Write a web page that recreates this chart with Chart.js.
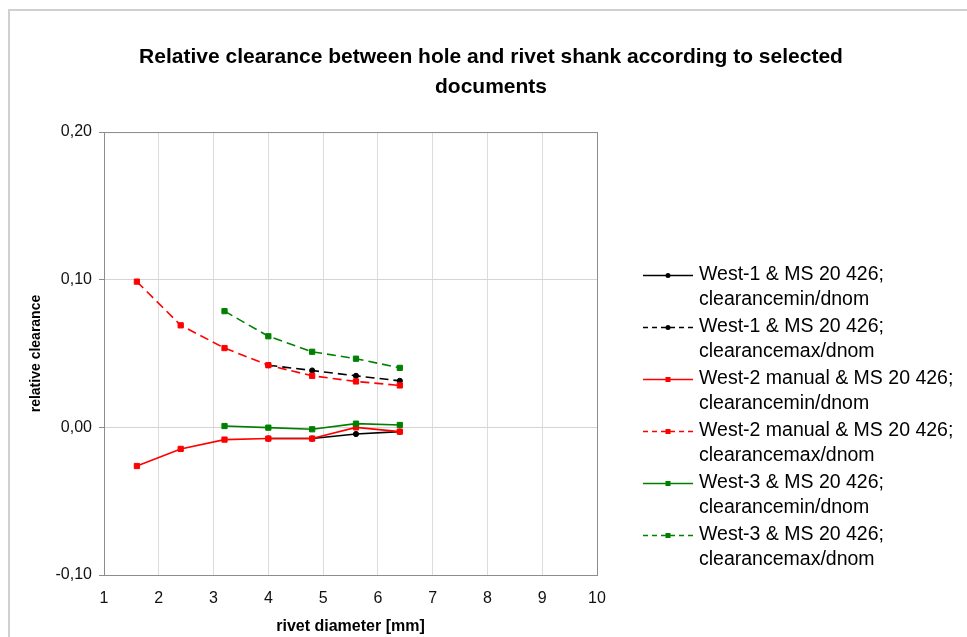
<!DOCTYPE html>
<html>
<head>
<meta charset="utf-8">
<script src="https://cdn.jsdelivr.net/npm/chart.js@4"></script>
<style>
    body { margin: 0; background: #fff; }
    #wrap { position: relative; width: 967px; height: 637px; overflow: hidden; }
    #frame { position: absolute; left: 8px; top: 9px; width: 2000px; height: 2000px;
             border-left: 2px solid #d0d0d0; border-top: 2px solid #d0d0d0; pointer-events: none; }
</style>
</head>
<body>
<div id="wrap">
    <canvas id="chart" width="967" height="637"></canvas>
    <div id="frame"></div>
</div>
<script>
// rivet diameters [mm]
const diamWest1 = [4.0, 4.8, 5.6, 6.4];
const diamWest2 = [1.6, 2.4, 3.2, 4.0, 4.8, 5.6, 6.4];
const diamWest3 = [3.2, 4.0, 4.8, 5.6, 6.4];

// relative clearance values
const west1Min = [-0.0076, -0.0076, -0.0045, -0.0029];
const west1Max = [0.0421, 0.0385, 0.0349, 0.0315];
const west2Min = [-0.0262, -0.0146, -0.0083, -0.0076, -0.0076, 0.0000, -0.0029];
const west2Max = [0.0987, 0.0691, 0.0537, 0.0421, 0.0349, 0.0311, 0.0284];
const west3Min = [0.0009, -0.0002, -0.0013, 0.0025, 0.0016];
const west3Max = [0.0787, 0.0617, 0.0512, 0.0465, 0.0403];

const seriesLabels = [
    ['West-1 & MS 20 426;', 'clearancemin/dnom'],
    ['West-1 & MS 20 426;', 'clearancemax/dnom'],
    ['West-2 manual & MS 20 426;', 'clearancemin/dnom'],
    ['West-2 manual & MS 20 426;', 'clearancemax/dnom'],
    ['West-3 & MS 20 426;', 'clearancemin/dnom'],
    ['West-3 & MS 20 426;', 'clearancemax/dnom']
];

const titleLines = ['Relative clearance between hole and rivet shank according to selected', 'documents'];
const xTitle = 'rivet diameter [mm]';
const yTitle = 'relative clearance';

const FONT = "'Liberation Sans', Arial, sans-serif";
const DASH = [9, 5];

const toPoints = (xs, ys) => xs.map((x, i) => ({x: x, y: ys[i]}));

const makeSet = (i, xs, ys, color, dashed, pointStyle, order) => ({
    label: seriesLabels[i].join(' '),
    data: toPoints(xs, ys),
    borderColor: color,
    backgroundColor: color,
    borderWidth: 1.6,
    borderDash: dashed ? DASH : [],
    pointStyle: pointStyle,
    pointRadius: pointStyle === 'circle' ? 2.6 : 3.7,
    pointBorderWidth: 1,
    pointHoverRadius: 3,
    tension: 0,
    fill: false,
    order: order
});

const datasets = [
    makeSet(0, diamWest1, west1Min, '#000000', false, 'circle', 2),
    makeSet(1, diamWest1, west1Max, '#000000', true, 'circle', 2),
    makeSet(2, diamWest2, west2Min, '#ff0000', false, 'rect', 1),
    makeSet(3, diamWest2, west2Max, '#ff0000', true, 'rect', 1),
    makeSet(4, diamWest3, west3Min, '#008000', false, 'rect', 0),
    makeSet(5, diamWest3, west3Max, '#008000', true, 'rect', 0)
];

// grey box round the plot area
const plotFrame = {
    id: 'plotFrame',
    beforeDatasetsDraw(chart) {
        const {ctx, chartArea: a} = chart;
        ctx.save();
        ctx.strokeStyle = '#8c8c8c';
        ctx.lineWidth = 1;
        ctx.strokeRect(a.left + 0.5, a.top + 0.5, a.right - a.left, a.bottom - a.top);
        ctx.restore();
    }
};

// legend with two-line labels, to the right of the plot
const sideLegend = {
    id: 'sideLegend',
    afterDraw(chart) {
        const {ctx, chartArea: a} = chart;
        const x0 = a.right + 46;
        const x1 = x0 + 50;
        const tx = x1 + 6;
        let y = 275;
        ctx.save();
        ctx.font = '19.5px ' + FONT;
        ctx.textBaseline = 'middle';
        ctx.textAlign = 'left';
        chart.data.datasets.forEach((ds, i) => {
            ctx.strokeStyle = ds.borderColor;
            ctx.lineWidth = 1.5;
            ctx.setLineDash(ds.borderDash.length ? [5, 4] : []);
            ctx.beginPath();
            ctx.moveTo(x0, y + 0.5);
            ctx.lineTo(x1, y + 0.5);
            ctx.stroke();
            ctx.setLineDash([]);
            ctx.fillStyle = ds.backgroundColor;
            const mx = (x0 + x1) / 2;
            if (ds.pointStyle === 'circle') {
                ctx.beginPath();
                ctx.arc(mx, y + 0.5, 2.5, 0, Math.PI * 2);
                ctx.fill();
            } else {
                ctx.fillRect(mx - 2.5, y - 2, 5, 5);
            }
            ctx.fillStyle = '#000';
            ctx.fillText(seriesLabels[i][0], tx, y);
            ctx.fillText(seriesLabels[i][1], tx, y + 25);
            y += 52;
        });
        ctx.restore();
    }
};

const ctx = document.getElementById('chart').getContext('2d');
const chart = new Chart(ctx, {
    type: 'line',
    data: {datasets: datasets},
    options: {
        responsive: false,
        animation: false,
        devicePixelRatio: 1,
        layout: {padding: {left: 15, right: 0, top: 0, bottom: 0}},
        plugins: {
            legend: {display: false},
            tooltip: {enabled: false},
            title: {
                display: true,
                text: titleLines,
                color: '#000',
                font: {family: FONT, size: 21, weight: 'bold', lineHeight: 1.43},
                padding: {top: 42, bottom: 30}
            }
        },
        scales: {
            x: {
                type: 'linear',
                min: 1,
                max: 10,
                afterFit: s => { s.height = 62; },
                ticks: {stepSize: 1, color: '#111', padding: 14, font: {family: FONT, size: 16}},
                grid: {color: '#dcdcdc', drawTicks: false},
                border: {display: false},
                title: {display: true, text: xTitle, color: '#000', padding: {top: 0, bottom: 1},
                        font: {family: FONT, size: 16, weight: 'bold', lineHeight: 1.2}}
            },
            y: {
                type: 'linear',
                min: -0.1,
                max: 0.2,
                afterFit: s => { s.width = 89; },
                ticks: {
                    stepSize: 0.1,
                    color: '#111',
                    padding: 7,
                    font: {family: FONT, size: 16},
                    callback: v => v.toFixed(2).replace('.', ',')
                },
                grid: {color: '#d4d4d4', tickColor: '#8c8c8c', tickLength: 5},
                border: {display: false},
                title: {display: true, text: yTitle, color: '#000', padding: {top: 13, bottom: 0},
                        font: {family: FONT, size: 14, weight: 'bold', lineHeight: 1.2}}
            },
            side: {
                type: 'linear',
                position: 'right',
                display: true,
                afterFit: s => { s.width = 370; },
                ticks: {display: false},
                grid: {display: false},
                border: {display: false}
            }
        }
    },
    plugins: [plotFrame, sideLegend]
});
</script>
</body>
</html>
